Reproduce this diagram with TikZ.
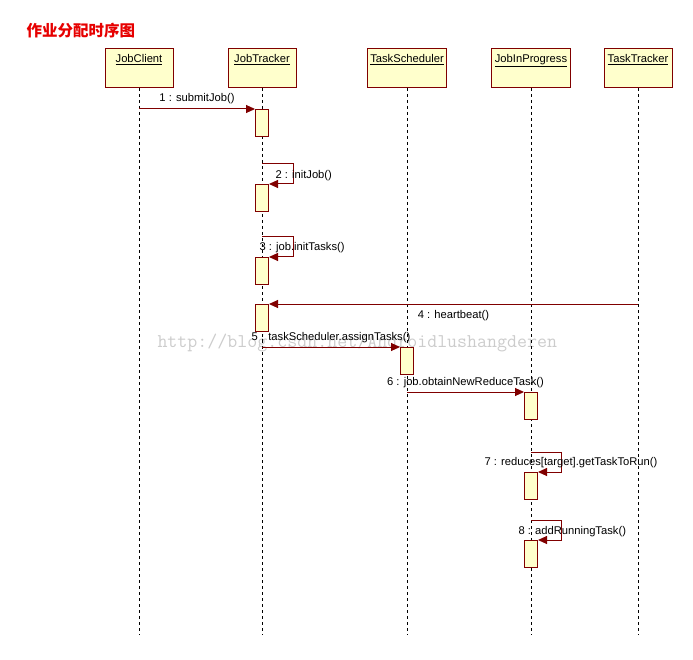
\documentclass[tikz,border=0pt]{standalone}
\usepackage{fontspec}
\setmainfont{Liberation Sans}
\newfontfamily\cjk{Noto Sans CJK SC}
\usetikzlibrary{arrows.meta}
\definecolor{umlred}{RGB}{128,0,0}
\definecolor{umlfill}{RGB}{255,255,204}
\definecolor{titlered}{RGB}{230,0,0}
\begin{document}
\begin{tikzpicture}[x=1pt,y=-1pt,line width=1pt,
	font=\fontsize{11.2}{13}\selectfont,
	head/.style={draw=umlred,fill=umlfill,anchor=north,minimum height=39pt,inner sep=3pt,text height=11pt,text depth=22pt},
	act/.style={draw=umlred,fill=umlfill,anchor=north,minimum width=13pt,minimum height=27pt,inner sep=0pt},
	lifeline/.style={dash pattern=on 3pt off 3pt},
	msg/.style={draw=umlred,-{Triangle[length=9pt,width=8pt]}},
	msglabel/.style={inner sep=1pt}]
		\useasboundingbox (0,0) rectangle (693,660);
		\node[anchor=base west,inner sep=0pt,text=black!20,font=\ttfamily\fontsize{19.4}{20}\selectfont] (mark) at (157,347) {http://blog.csdn.net/Androidlushangderen};
		\node[anchor=west,inner sep=0pt,text=titlered,font=\cjk\bfseries\fontsize{15.5}{18}\selectfont] (title) at (26,31) {作业分配时序图};
		\foreach \name/\x/\w in {JobClient/139/68,JobTracker/262/68,TaskScheduler/407/78,JobInProgress/531/77,TaskTracker/638/68}{
			\node[head,minimum width=\w] (\name) at (\x,48) {\underline{\name}};
			\coordinate (\name-end) at (\x,635);
			\draw[lifeline] (\name) -- (\name-end);
		}
		\foreach \i/\x/\y in {1/262/109,2/262/184,3/262/257,4/262/304,5/407/347,6/531/392,7/531/472,8/531/540}{
			\node[act] (act\i) at (\x,\y) {};
		}
		\coordinate (m1) at (139,109);
		\coordinate (m2) at (262,164);
		\coordinate (m3) at (262,237);
		\coordinate (m4) at (638,304);
		\coordinate (m5) at (262,347);
		\coordinate (m6) at (407,392);
		\coordinate (m7) at (531,452);
		\coordinate (m8) at (531,520);
		\draw[msg] (m1) -- (act1.north west) node[msglabel,midway,above=4pt] (l1) {1 : submitJob()};
		\draw[msg] (m2) -- ++(31,0) -- ++(0,20) -- (act2.north east);
		\node[msglabel,anchor=west] (l2) at (274,175.5) {2 : initJob()};
		\draw[msg] (m3) -- ++(31,0) -- ++(0,20) -- (act3.north east);
		\node[msglabel,anchor=west] (l3) at (258,247.5) {3 : job.initTasks()};
		\draw[msg] (m4) -- (act4.north east) node[msglabel,midway,below=5pt] (l4) {4 : heartbeat()};
		\draw[msg] (m5) -- (act5.north west) node[msglabel,midway,above=3pt] (l5) {5 : taskScheduler.assignTasks()};
		\draw[msg] (m6) -- (act6.north west) node[msglabel,midway,above=3pt] (l6) {6 : job.obtainNewReduceTask()};
		\draw[msg] (m7) -- ++(30,0) -- ++(0,20) -- (act7.north east);
		\node[msglabel,anchor=west] (l7) at (483,463) {7 : reduces[target].getTaskToRun()};
		\draw[msg] (m8) -- ++(30,0) -- ++(0,20) -- (act8.north east);
		\node[msglabel,anchor=west] (l8) at (517,531.5) {8 : addRunningTask()};
\end{tikzpicture}
\end{document}
